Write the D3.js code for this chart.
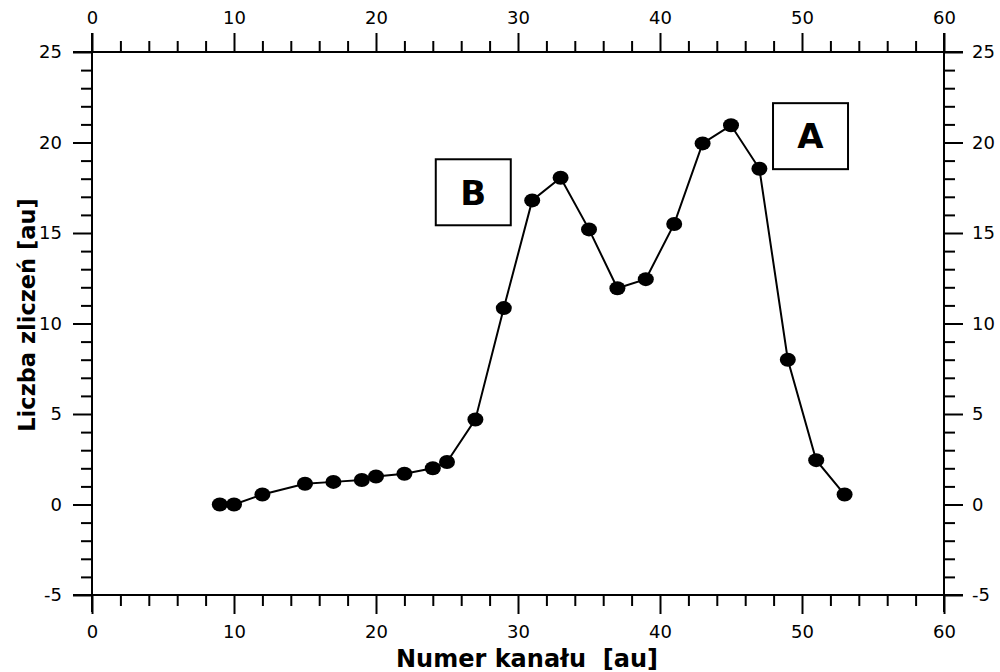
<!DOCTYPE html>
<html>
<head>
<meta charset="utf-8">
<script src="https://cdn.jsdelivr.net/npm/d3@7"></script>
<style>
  body { margin: 0; background: #fff; }
  text { font-family: "DejaVu Sans", Verdana, sans-serif; }
</style>
</head>
<body>
<div id="chart"></div>
<script>
// data
var channels = [9, 10, 12, 15, 17, 19, 20, 22, 24, 25, 27, 29, 31, 33, 35, 37, 39, 41, 43, 45, 47, 49, 51, 53];
var counts = [0, 0, 0.55, 1.15, 1.25, 1.35, 1.55, 1.7, 2.0, 2.35, 4.7, 10.85, 16.8, 18.05, 15.2, 11.95, 12.45, 15.5, 19.95, 20.95, 18.55, 8.0, 2.45, 0.55];
var xTicks = [0, 10, 20, 30, 40, 50, 60];
var yTicks = [-5, 0, 5, 10, 15, 20, 25];
var peaks = [{label: "A", x: 50.6, y: 20.35}, {label: "B", x: 26.85, y: 17.25}];

var margin = {top: 52, right: 56, bottom: 77, left: 92},
    width = 1000 - margin.left - margin.right,
    height = 672 - margin.top - margin.bottom;

var svg = d3.select("#chart")
    .append("svg")
    .attr("width", 1000)
    .attr("height", 672)
    .append("g")
    .attr("transform", "translate(" + margin.left + "," + margin.top + ")");

var x = d3.scaleLinear().domain([0, 60]).range([0, width]);
var y = d3.scaleLinear().domain([-5, 25]).range([height, 0]);

var minorX = d3.range(0, 61, 2).filter(function(d) { return d % 10 != 0; });
var minorY = d3.range(-5, 26, 1).filter(function(d) { return d % 5 != 0; });

// axes: ticks point outward, majors longer
function axisPair(axisFn, scale, majors, minors, tx, ty) {
    var g = svg.append("g").attr("transform", "translate(" + tx + "," + ty + ")");
    g.append("g").call(axisFn(scale).tickValues(minors).tickSize(11).tickFormat(""));
    g.append("g").call(axisFn(scale).tickValues(majors).tickSize(19).tickFormat(function(d) { return String(d); }));
    g.selectAll(".domain").remove();
    g.selectAll("line").attr("stroke", "#000").attr("stroke-width", 2);
    g.selectAll("text").style("font-size", "18px").attr("fill", "#000");
    return g;
}

var axTop = axisPair(d3.axisTop, x, xTicks, minorX, 0, 0);
axTop.selectAll("text").attr("y", -28).attr("dy", 0);
var axBottom = axisPair(d3.axisBottom, x, xTicks, minorX, 0, height);
axBottom.selectAll("text").attr("y", 43).attr("dy", 0);
var axLeft = axisPair(d3.axisLeft, y, yTicks, minorY, 0, 0);
axLeft.selectAll("text").attr("x", -30);
var axRight = axisPair(d3.axisRight, y, yTicks, minorY, width, 0);
axRight.selectAll("text").attr("x", 28);

// frame lines extend past the corners
svg.append("g").selectAll("line")
    .data([[-19, 0, width + 19, 0], [-19, height, width + 19, height], [0, -19, 0, height + 17], [width, -19, width, height + 17]])
    .enter().append("line")
    .attr("x1", function(d) { return d[0]; })
    .attr("y1", function(d) { return d[1]; })
    .attr("x2", function(d) { return d[2]; })
    .attr("y2", function(d) { return d[3]; })
    .attr("stroke", "#000")
    .attr("stroke-width", 2);

// axis titles
svg.append("text")
    .attr("x", 435)
    .attr("y", height + 72)
    .attr("text-anchor", "middle")
    .style("font-size", "24px")
    .attr("font-weight", "bold")
    .style("white-space", "pre")
    .text("Numer kanału  [au]");

svg.append("text")
    .attr("transform", "rotate(-90)")
    .attr("x", -263)
    .attr("y", -57)
    .attr("text-anchor", "middle")
    .style("font-size", "22.5px")
    .attr("font-weight", "bold")
    .text("Liczba zliczeń [au]");

// line + markers
var data = channels.map(function(c, i) { return {x: c, y: counts[i]}; });

svg.append("path")
    .datum(data)
    .attr("fill", "none")
    .attr("stroke", "#000")
    .attr("stroke-width", 2)
    .attr("d", d3.line().x(function(d) { return x(d.x); }).y(function(d) { return y(d.y); }));

svg.append("g").selectAll("ellipse")
    .data(data)
    .enter().append("ellipse")
    .attr("cx", function(d) { return x(d.x); })
    .attr("cy", function(d) { return y(d.y); })
    .attr("rx", 8)
    .attr("ry", 7)
    .attr("fill", "#000");

// peak labels in boxes
var box = svg.append("g").selectAll("g")
    .data(peaks)
    .enter().append("g")
    .attr("transform", function(d) { return "translate(" + x(d.x) + "," + y(d.y) + ")"; });
box.append("rect")
    .attr("x", -37.5)
    .attr("y", -33)
    .attr("width", 75)
    .attr("height", 66)
    .attr("fill", "#fff")
    .attr("stroke", "#000")
    .attr("stroke-width", 2);
box.append("text")
    .attr("text-anchor", "middle")
    .attr("dy", "0.36em")
    .style("font-size", "34px")
    .attr("font-weight", "bold")
    .text(function(d) { return d.label; });
</script>
</body>
</html>
